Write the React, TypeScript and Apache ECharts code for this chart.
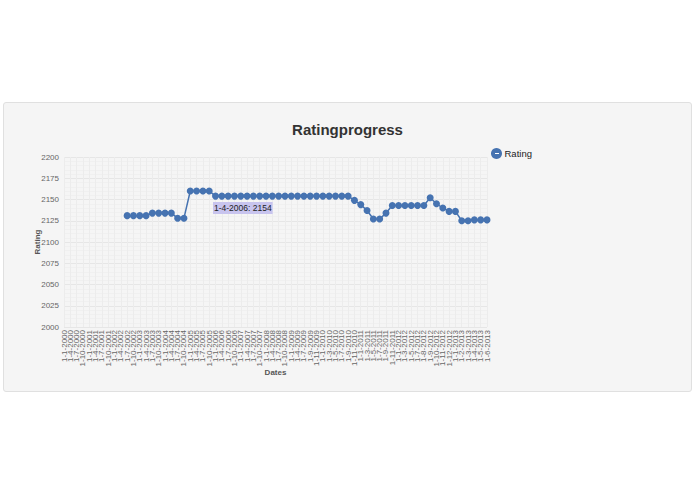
import { useEffect, useRef } from "react";
import * as echarts from "echarts";

const dates = [
  "1-1-2000", "1-4-2000", "1-7-2000", "1-10-2000",
  "1-1-2001", "1-4-2001", "1-7-2001", "1-10-2001",
  "1-1-2002", "1-4-2002", "1-7-2002", "1-10-2002",
  "1-1-2003", "1-4-2003", "1-7-2003", "1-10-2003",
  "1-1-2004", "1-4-2004", "1-7-2004", "1-10-2004",
  "1-1-2005", "1-4-2005", "1-7-2005", "1-10-2005",
  "1-1-2006", "1-4-2006", "1-7-2006", "1-10-2006",
  "1-1-2007", "1-4-2007", "1-7-2007", "1-10-2007",
  "1-1-2008", "1-4-2008", "1-7-2008", "1-10-2008",
  "1-1-2009", "1-4-2009", "1-7-2009", "1-9-2009", "1-11-2009",
  "1-1-2010", "1-3-2010", "1-5-2010", "1-7-2010", "1-9-2010", "1-11-2010",
  "1-1-2011", "1-3-2011", "1-5-2011", "1-7-2011", "1-9-2011", "1-11-2011",
  "1-1-2012", "1-3-2012", "1-5-2012", "1-7-2012", "1-8-2012", "1-9-2012",
  "1-10-2012", "1-11-2012", "1-12-2012",
  "1-1-2013", "1-2-2013", "1-3-2013", "1-4-2013", "1-5-2013", "1-6-2013"
];

const ratings: (number | null)[] = [
  null, null, null, null, null, null, null, null, null, null,
  2131, 2131, 2131, 2131,
  2134, 2134, 2134, 2134,
  2128, 2128,
  2160, 2160, 2160, 2160,
  2154, 2154, 2154, 2154, 2154, 2154, 2154, 2154, 2154, 2154, 2154,
  2154, 2154, 2154, 2154, 2154, 2154, 2154, 2154, 2154, 2154, 2154,
  2149, 2144, 2137, 2127, 2127, 2134,
  2143, 2143, 2143, 2143, 2143, 2143,
  2152, 2145, 2140, 2136, 2136, 2125, 2125, 2126, 2126, 2126
];

const highlighted = "1-4-2006";

const FONT = "'Liberation Sans', Arial, Helvetica, sans-serif";
const BLUE = "#4673b1";

export default function App() {
  const chartEl = useRef<HTMLDivElement | null>(null);

  useEffect(() => {
    if (!chartEl.current) return undefined;
    const chart = echarts.init(chartEl.current, undefined, { renderer: "svg" });
    const hiIndex = dates.indexOf(highlighted);

    const seriesData = ratings.map((v, i) =>
      i === hiIndex
        ? {
            value: v,
            label: {
              show: true,
              position: "inside" as const,
              offset: [21, 12],
              formatter: `${highlighted}: ${v}`,
              backgroundColor: "#c8c4ee",
              color: "#222",
              fontSize: 8.5,
              fontFamily: FONT,
              padding: [2, 1, 1, 1]
            }
          }
        : v
    );

    chart.setOption({
      animation: false,
      backgroundColor: "transparent",
      textStyle: { fontFamily: FONT },
      title: {
        text: "Ratingprogress",
        left: "center",
        top: 117,
        textStyle: { fontSize: 15, fontWeight: "bold", color: "#333", fontFamily: FONT }
      },
      legend: {
        data: ["Rating"],
        left: 491,
        top: 148,
        padding: 0,
        itemWidth: 12,
        itemHeight: 11,
        itemGap: 4,
        icon: "circle",
        textStyle: { fontSize: 9.5, color: "#222", fontFamily: FONT, padding: [0, 0, 0, -3] }
      },
      graphic: [
        {
          type: "rect",
          shape: { x: 495, y: 153, width: 4, height: 1 },
          style: { fill: "#fff" },
          z: 100
        }
      ],
      grid: { left: 64, right: 208, top: 157, bottom: 167 },
      xAxis: {
        type: "category",
        data: dates,
        boundaryGap: false,
        name: "Dates",
        nameLocation: "middle",
        nameGap: 41,
        nameMoveOverlap: false,
        nameTextStyle: { fontSize: 8, fontWeight: "bold", color: "#555", fontFamily: FONT },
        axisLine: { show: false },
        axisTick: { show: false },
        axisLabel: {
          interval: 0,
          rotate: 90,
          fontSize: 8,
          color: "#666",
          margin: 3,
          fontFamily: FONT
        },
        splitLine: { show: true, interval: 0, lineStyle: { color: "#ececec", width: 1 } }
      },
      yAxis: {
        type: "value",
        min: 2000,
        max: 2200,
        interval: 25,
        name: "Rating",
        nameLocation: "middle",
        nameGap: 23,
        nameMoveOverlap: false,
        nameTextStyle: { fontSize: 8, fontWeight: "bold", color: "#555", fontFamily: FONT },
        axisLine: { show: false },
        axisTick: { show: false },
        axisLabel: {
          fontSize: 8,
          color: "#666",
          margin: 5,
          fontFamily: FONT,
          formatter: (v: number) => String(v)
        },
        splitLine: { show: true, lineStyle: { color: "#e6e6e6", width: 1 } },
        minorTick: { show: false, splitNumber: 5 },
        minorSplitLine: { show: true, lineStyle: { color: "#f0f0f0", width: 1 } }
      },
      series: [
        {
          name: "Rating",
          type: "line",
          data: seriesData,
          connectNulls: false,
          symbol: "circle",
          symbolSize: 7,
          showAllSymbol: true,
          itemStyle: { color: BLUE },
          lineStyle: { color: BLUE, width: 1.5 }
        }
      ]
    });

    return () => {
      chart.dispose();
    };
  }, []);

  return (
    <div
      style={{
        position: "fixed",
        left: 0,
        top: 0,
        width: 695,
        height: 494,
        background: "#fff"
      }}
    >
      <div
        style={{
          position: "absolute",
          left: 3,
          top: 102,
          width: 687,
          height: 288,
          background: "#f5f5f5",
          border: "1px solid #e0e0e0",
          borderRadius: 3
        }}
      />
      <div
        ref={chartEl}
        style={{ position: "absolute", left: 0, top: 0, width: 695, height: 494 }}
      />
    </div>
  );
}
